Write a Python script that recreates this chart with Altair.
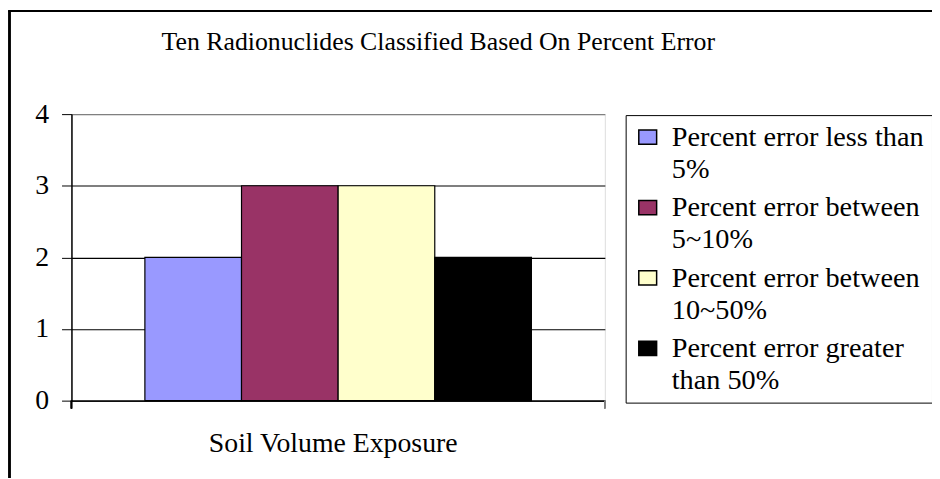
import altair as alt
import pandas as pd

group = ["Soil Volume Exposure"] * 4
series = [
    "Percent error less than|5%",
    "Percent error between|5~10%",
    "Percent error between|10~50%",
    "Percent error greater|than 50%",
]
counts = [2, 3, 3, 2]
colors = ["#9999FF", "#993366", "#FFFFCC", "#000000"]
y_ticks = [0, 1, 2, 3, 4]

df = pd.DataFrame({"group": group, "series": series, "count": counts})

FONT = "'Times New Roman', 'Liberation Serif', serif"
FS = 28
W, H = 538, 289

bars = alt.Chart(df).mark_bar(stroke="black", strokeWidth=1.2, opacity=1).encode(
    x=alt.X("group:N",
            scale=alt.Scale(paddingInner=0, paddingOuter=0.19),
            axis=alt.Axis(title=None, labelAngle=0, ticks=False, tickSize=0,
                          labelPadding=51, labelBaseline="alphabetic",
                          labelOffset=-5, labelFontSize=FS, labelFont=FONT,
                          labelColor="black", domainColor="black",
                          domainWidth=1.5, labelLimit=600)),
    xOffset=alt.XOffset("series:N", sort=series, scale=alt.Scale(paddingInner=0, paddingOuter=0)),
    y=alt.Y("count:Q",
            scale=alt.Scale(domain=[0, 4], nice=False, zero=True),
            axis=alt.Axis(title=None, values=y_ticks, tickSize=10, tickColor="black",
                          labelPadding=13, labelFontSize=FS, labelFont=FONT,
                          labelColor="black", domainColor="black", domainWidth=1.5,
                          grid=True,
                          gridColor={"condition": {"test": "datum.value == 4", "value": "#808080"},
                                     "value": "black"},
                          gridWidth=1.2)),
    color=alt.Color("series:N", sort=series,
                    scale=alt.Scale(domain=series, range=colors),
                    legend=alt.Legend(
                        title=None, orient="none", legendX=559, legendY=1,
                        labelExpr="split(datum.label, '|')",
                        labelFont=FONT, labelFontSize=28.5, labelColor="black",
                        labelLimit=600, labelOffset=10,
                        symbolType="M-1,-0.8H1V0.8H-1Z", symbolSize=324,
                        symbolStrokeColor="black", symbolStrokeWidth=1.5,
                        symbolOpacity=1,
                        strokeColor="black", fillColor="white", padding=8,
                        rowPadding=10, labelBaseline="middle")),
)

edge_ticks = alt.Chart(df).mark_rule(color="black", strokeWidth=1.5).encode(
    x=alt.value(0), y=alt.value(H), y2=alt.value(H + 8))
edge_ticks2 = alt.Chart(df).mark_rule(color="#808080", strokeWidth=1.5).encode(
    x=alt.value(W), y=alt.value(H), y2=alt.value(H + 8))

border_left = alt.Chart(df).mark_rule(color="black", strokeWidth=2).encode(
    x=alt.value(-62.5), y=alt.value(-104), y2=alt.value(H + 200))
border_top = alt.Chart(df).mark_rule(color="black", strokeWidth=2).encode(
    x=alt.value(-63.5), x2=alt.value(W + 400), y=alt.value(-104))

chart = alt.layer(bars, edge_ticks, edge_ticks2, border_left, border_top).properties(
    width=W, height=H,
    title=alt.TitleParams("Ten Radionuclides Classified Based On Percent Error",
                          font=FONT, fontSize=26, fontWeight="normal", color="black",
                          anchor="middle", frame="group", dx=101, offset=-66,
                          baseline="alphabetic"),
    autosize=alt.AutoSizeParams(type="none"),
    padding={"left": 64, "top": 105, "right": 330, "bottom": 76},
).configure_view(
    stroke="#808080", strokeWidth=1.5
).configure(
    style={"guide-label": {"lineHeight": 32}}
)

chart.save("out.html", embed_options={"renderer": "svg", "actions": False})
